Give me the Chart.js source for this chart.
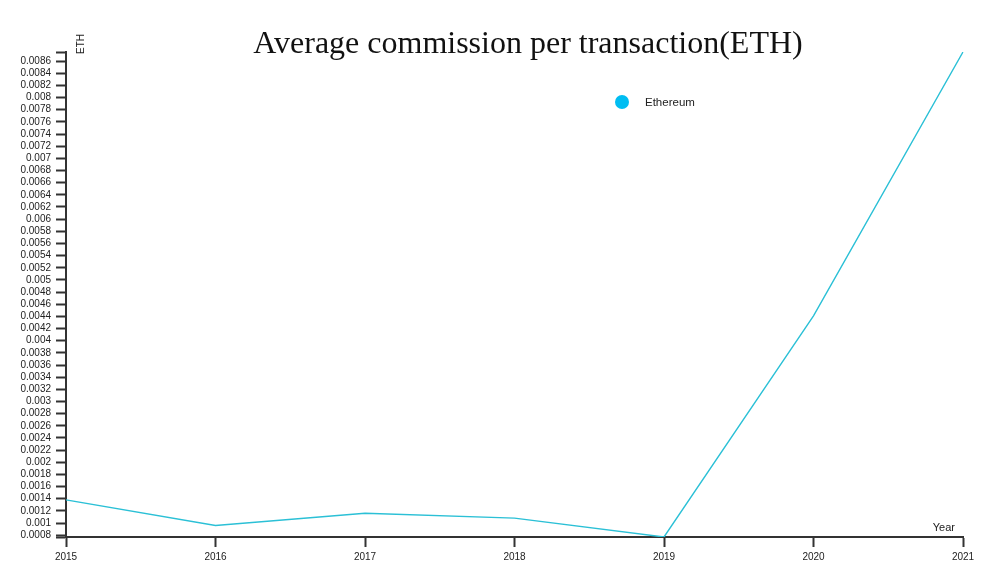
<!DOCTYPE html>
<html>
<head>
<meta charset="utf-8">
<script src="https://cdn.jsdelivr.net/npm/chart.js@4"></script>
<style>
  html, body { margin: 0; padding: 0; background: #fff; }
  #wrap { width: 997px; height: 583px; position: relative; }
</style>
</head>
<body>
<div id="wrap"><canvas id="c" width="997" height="583"></canvas></div>
<script>
const years = ['2015', '2016', '2017', '2018', '2019', '2020', '2021'];
const ethCommission = [0.00138, 0.00096, 0.00116, 0.00108, 0.00077, 0.00441, 0.00875];
const yTickValues = [
  0.0008, 0.001, 0.0012, 0.0014, 0.0016, 0.0018, 0.002, 0.0022, 0.0024, 0.0026,
  0.0028, 0.003, 0.0032, 0.0034, 0.0036, 0.0038, 0.004, 0.0042, 0.0044, 0.0046,
  0.0048, 0.005, 0.0052, 0.0054, 0.0056, 0.0058, 0.006, 0.0062, 0.0064, 0.0066,
  0.0068, 0.007, 0.0072, 0.0074, 0.0076, 0.0078, 0.008, 0.0082, 0.0084, 0.0086
];
const titleText = 'Average commission per transaction(ETH)';
const yAxisTitle = 'ETH';
const xAxisTitle = 'Year';
const seriesName = 'Ethereum';

const axisColor = '#333';
const lineColor = '#2bc0d6';
const legendColor = '#00bdf2';

const decorPlugin = {
  id: 'decor',
  afterDraw(chart) {
    const ctx = chart.ctx;
    ctx.save();
    // title
    ctx.fillStyle = '#111';
    ctx.font = '32px "Liberation Serif", "DejaVu Serif", serif';
    ctx.textAlign = 'center';
    ctx.textBaseline = 'alphabetic';
    ctx.fillText(titleText, 528, 53);
    // y axis title
    ctx.font = '10px "Liberation Sans", Arial, sans-serif';
    ctx.fillStyle = '#222';
    ctx.save();
    ctx.translate(84, 44);
    ctx.rotate(-Math.PI / 2);
    ctx.textAlign = 'center';
    ctx.textBaseline = 'alphabetic';
    ctx.fillText(yAxisTitle, 0, 0);
    ctx.restore();
    // x axis title
    ctx.font = '11px "Liberation Sans", Arial, sans-serif';
    ctx.textAlign = 'right';
    ctx.textBaseline = 'alphabetic';
    ctx.fillText(xAxisTitle, 955, 531);
    // legend
    const ds = chart.data.datasets[0];
    ctx.beginPath();
    ctx.fillStyle = legendColor;
    ctx.arc(622, 102, 7, 0, Math.PI * 2);
    ctx.fill();
    ctx.fillStyle = '#222';
    ctx.font = '11.5px "Liberation Sans", Arial, sans-serif';
    ctx.textAlign = 'left';
    ctx.textBaseline = 'middle';
    ctx.fillText(ds.label, 645, 103);
    ctx.restore();
  }
};

new Chart(document.getElementById('c'), {
  type: 'line',
  data: {
    labels: years,
    datasets: [{
      label: seriesName,
      data: ethCommission,
      borderColor: lineColor,
      borderWidth: 1.4,
      pointRadius: 0,
      tension: 0,
      fill: false
    }]
  },
  options: {
    responsive: false,
    animation: false,
    devicePixelRatio: 1,
    layout: { padding: { top: 52, right: 34, left: 0, bottom: 0 } },
    plugins: {
      legend: { display: false },
      title: { display: false },
      tooltip: { enabled: false }
    },
    scales: {
      x: {
        type: 'category',
        offset: false,
        grid: {
          drawOnChartArea: false,
          drawTicks: true,
          tickLength: 10,
          tickColor: axisColor,
          tickWidth: 2
        },
        border: { display: true, color: axisColor, width: 2 },
        ticks: {
          color: '#222',
          font: { family: '"Liberation Sans", Arial, sans-serif', size: 10 },
          padding: 4,
          maxRotation: 0,
          autoSkip: false
        },
        afterFit(scale) { scale.height = 46; }
      },
      y: {
        type: 'linear',
        min: 0.00077,
        max: 0.00875,
        grid: {
          drawOnChartArea: false,
          drawTicks: true,
          tickLength: 10,
          tickColor: axisColor,
          tickWidth: 2
        },
        border: { display: true, color: axisColor, width: 2 },
        afterBuildTicks(scale) {
          const t = yTickValues.map(v => ({ value: v }));
          t.push({ value: scale.min, bound: true });
          t.push({ value: scale.max, bound: true });
          scale.ticks = t;
        },
        ticks: {
          color: '#222',
          font: { family: '"Liberation Sans", Arial, sans-serif', size: 10 },
          padding: 5,
          autoSkip: false,
          callback(value) {
            if (!yTickValues.some(v => Math.abs(v - value) < 1e-9)) return '';
            return String(Number(value.toFixed(4)));
          }
        },
        afterFit(scale) { scale.width = 66; }
      }
    }
  },
  plugins: [decorPlugin]
});
</script>
</body>
</html>
